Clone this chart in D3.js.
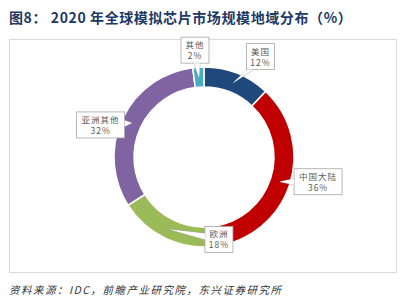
<!DOCTYPE html>
<html>
<head>
<meta charset="utf-8">
<script src="https://cdn.jsdelivr.net/npm/d3@7"></script>
<style>
  body { margin: 0; background: #fff; }
  svg { display: block; font-family: "Noto Sans CJK SC", "Noto Sans", sans-serif; }
</style>
</head>
<body>
<div id="chart"></div>
<script>
// data
var regions = ["美国", "中国大陆", "欧洲", "亚洲其他", "其他"];
var shares  = [12, 36, 18, 32, 2];
var colors  = ["#1F497D", "#C00000", "#9BBB59", "#8064A2", "#4BACC6"];

// label box offsets from the pointer tip (dx, dy of box centre)
var boxOffset = [[27, -26], [38, 0], [49, 10], [-31, 2], [-4, -27]];

var width = 402, height = 296;
var cx = 204, cy = 157,
    rOuter = 90, rInner = 70;

var svg = d3.select("#chart").append("svg")
    .attr("width", width)
    .attr("height", height);

// title
svg.append("text")
    .attr("x", 9)
    .attr("y", 23)
    .style("font-size", "14px")
    .style("font-weight", "bold")
    .style("fill", "#203864")
    .style("letter-spacing", "0.6px")
    .text("图8：  2020 年全球模拟芯片市场规模地域分布（%）");

// frame
svg.append("rect")
    .attr("x", 9.5)
    .attr("y", 39.5)
    .attr("width", 387)
    .attr("height", 233)
    .style("fill", "none")
    .style("stroke", "#d9d9d9");

var pie = d3.pie().sort(null).value(function(d) { return d; });
var arcs = pie(shares);

var arc = d3.arc().innerRadius(rInner).outerRadius(rOuter);
var tipArc = d3.arc().innerRadius(80).outerRadius(80);

var g = svg.append("g").attr("transform", "translate(" + cx + "," + cy + ")");

g.selectAll("path.slice")
    .data(arcs)
    .enter()
    .append("path")
    .attr("class", "slice")
    .attr("d", arc)
    .style("fill", function(d, i) { return colors[i]; })
    .style("stroke", "#fff")
    .style("stroke-width", 1.5);

// callouts
var fs = 8.5, lineH = 11, padX = 4, padY = 2;
var labels = g.append("g");

arcs.forEach(function(d, i) {
    var tip = tipArc.centroid(d);
    var bx = tip[0] + boxOffset[i][0],
        by = tip[1] + boxOffset[i][1];

    [regions[i], shares[i] + "%"].forEach(function(s, k) {
        labels.append("text")
            .attr("x", bx)
            .attr("y", by - 2 + k * lineH)
            .attr("text-anchor", "middle")
            .style("font-size", fs + "px")
            .style("fill", "#595959")
            .style("letter-spacing", "1px")
            .text(s);
    });

    var tw = regions[i].length * (fs + 1.5);
    var w = tw + padX * 2, h = lineH * 2 + padY * 2;
    var x0 = bx - w / 2, y0 = by - h / 2, x1 = bx + w / 2, y1 = by + h / 2;

    // where the line from box centre to the tip leaves the box
    var dx = tip[0] - bx, dy = tip[1] - by;
    var sx = dx !== 0 ? (w / 2) / Math.abs(dx) : Infinity;
    var sy = dy !== 0 ? (h / 2) / Math.abs(dy) : Infinity;
    var base1, base2, hw = 3;
    if (sx < sy) {
        var ex = dx > 0 ? x1 : x0;
        var ey = by + dy * sx;
        ey = Math.max(y0 + hw + 1, Math.min(y1 - hw - 1, ey));
        base1 = [ex, ey - hw]; base2 = [ex, ey + hw];
    } else {
        var ey2 = dy > 0 ? y1 : y0;
        var ex2 = bx + dx * sy;
        ex2 = Math.max(x0 + hw + 1, Math.min(x1 - hw - 1, ex2));
        base1 = [ex2 - hw, ey2]; base2 = [ex2 + hw, ey2];
    }

    var tri = "M" + base1 + "L" + tip + "L" + base2 + "Z";

    var cg = g.insert("g", function() { return labels.node(); });
    cg.append("path")
        .attr("d", tri)
        .style("fill", "#fff")
        .style("stroke", "#a6a6a6")
        .style("stroke-width", 0.8);
    cg.append("rect")
        .attr("x", x0).attr("y", y0)
        .attr("width", w).attr("height", h)
        .style("fill", "#fff")
        .style("stroke", "#a6a6a6")
        .style("stroke-width", 0.8);
    cg.append("path")
        .attr("d", tri)
        .style("fill", "#fff")
        .style("stroke", "none");
});

// source
svg.append("text")
    .attr("x", 9)
    .attr("y", 294)
    .style("font-size", "10.5px")
    .style("font-style", "italic")
    .style("fill", "#333")
    .style("letter-spacing", "1.5px")
    .text("资料来源：IDC，前瞻产业研究院，东兴证券研究所");
</script>
</body>
</html>
